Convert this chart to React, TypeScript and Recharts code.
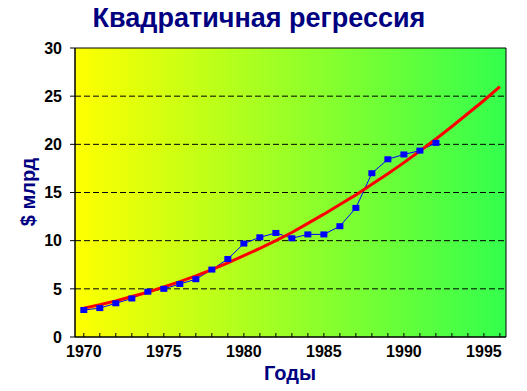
import { LineChart, Line, XAxis, YAxis, CartesianGrid, ReferenceArea, Customized } from 'recharts';

const years = [
  1970, 1971, 1972, 1973, 1974, 1975, 1976, 1977, 1978, 1979,
  1980, 1981, 1982, 1983, 1984, 1985, 1986, 1987, 1988, 1989,
  1990, 1991, 1992, 1993, 1994, 1995, 1996,
];

// actual values, 1970..1992
const actual = [
  2.8, 3.0, 3.5, 4.0, 4.7, 5.0, 5.5, 6.0, 7.0, 8.1,
  9.7, 10.35, 10.8, 10.25, 10.65, 10.65, 11.5, 13.4, 17.0, 18.45,
  18.95, 19.35, 20.15,
];

// quadratic trend, 1970..1996
const trend = [
  3.0, 3.35, 3.75, 4.2, 4.65, 5.2, 5.75, 6.35, 7.0, 7.7,
  8.45, 9.2, 10.0, 10.85, 11.8, 12.75, 13.75, 14.75, 15.85, 16.95,
  18.1, 19.3, 20.55, 21.85, 23.2, 24.55, 26.0,
];

const yTicks = [0, 5, 10, 15, 20, 25, 30];
const xLabels = [1970, 1975, 1980, 1985, 1990, 1995];

const X_MIN = 1969.45;
const X_MAX = 1996.38;

const data = years.map((year, i) => ({
  year,
  actual: i < actual.length ? actual[i] : null,
  trend: trend[i],
}));

const FONT = '"Liberation Sans", Arial, sans-serif';
const NAVY = '#000080';

const XTick = ({ x, y, payload }: any) => {
  const v = payload.value;
  return (
    <g>
      <line x1={x} x2={x} y1={y - 4} y2={y} stroke="#000" strokeWidth={1} />
      {xLabels.includes(v) && (
        <text x={x} y={y + 20} textAnchor="middle" fontSize={16} fontWeight="bold" fill="#000" fontFamily={FONT}>
          {v}
        </text>
      )}
    </g>
  );
};

const Square = ({ cx, cy, payload }: any) => {
  if (payload.actual == null || cx == null) return null;
  return <rect x={cx - 3.5} y={cy - 3} width={7} height={6} fill="#0000FF" />;
};

const Texts = () => (
  <g fontFamily={FONT} fontWeight="bold" fill={NAVY}>
    <text x={259} y={27} fontSize={27} textAnchor="middle" fill={NAVY}>
      Квадратичная регрессия
    </text>
    <text x={290} y={380} fontSize={20} textAnchor="middle" fill={NAVY}>
      Годы
    </text>
    <text
      x={0}
      y={0}
      fontSize={20}
      textAnchor="middle"
      dominantBaseline="central"
      fill={NAVY}
      transform="translate(28,192) rotate(-90)"
    >
      $ млрд
    </text>
  </g>
);

export default function App() {
  return (
    <div style={{ position: 'absolute', left: 0, top: 0, width: 527, height: 391, background: '#fff' }}>
      <LineChart
        width={527}
        height={391}
        data={data}
        margin={{ top: 48, right: 21, bottom: 0, left: 0 }}
        style={{ fontFamily: FONT }}
      >
        <defs>
          <linearGradient id="bg" x1="0" y1="0" x2="1" y2="0">
            <stop offset="0%" stopColor="#FFFF00" />
            <stop offset="100%" stopColor="#33FF4D" />
          </linearGradient>
        </defs>
        <CartesianGrid
          vertical={false}
          fill="url(#bg)"
          fillOpacity={1}
          stroke="#000"
          strokeDasharray="6 3"
          horizontalValues={[5, 10, 15, 20, 25]}
        />
        <XAxis
          dataKey="year"
          type="number"
          domain={[X_MIN, X_MAX]}
          ticks={years}
          interval={0}
          height={54}
          tickSize={0}
          tickMargin={0}
          tickLine={false}
          tick={<XTick />}
          axisLine={{ stroke: '#000' }}
          allowDataOverflow
        />
        <YAxis
          domain={[0, 30]}
          ticks={yTicks}
          width={75}
          tickSize={5}
          tickMargin={8}
          tickLine={{ stroke: '#000' }}
          axisLine={{ stroke: '#000' }}
          tick={{ fill: '#000', fontSize: 16, fontWeight: 'bold', fontFamily: FONT }}
          interval={0}
        />
        <ReferenceArea x1={X_MIN} x2={X_MAX} y1={0} y2={30} fill="none" stroke="#000" strokeWidth={1} ifOverflow="extendDomain" />
        <Line
          dataKey="actual"
          stroke="#0000FF"
          strokeWidth={1}
          dot={<Square />}
          activeDot={false}
          isAnimationActive={false}
          connectNulls={false}
        />
        <Line
          dataKey="trend"
          stroke="#FF0000"
          strokeWidth={3}
          dot={false}
          activeDot={false}
          isAnimationActive={false}
        />
        <Customized component={Texts} />
      </LineChart>
    </div>
  );
}
